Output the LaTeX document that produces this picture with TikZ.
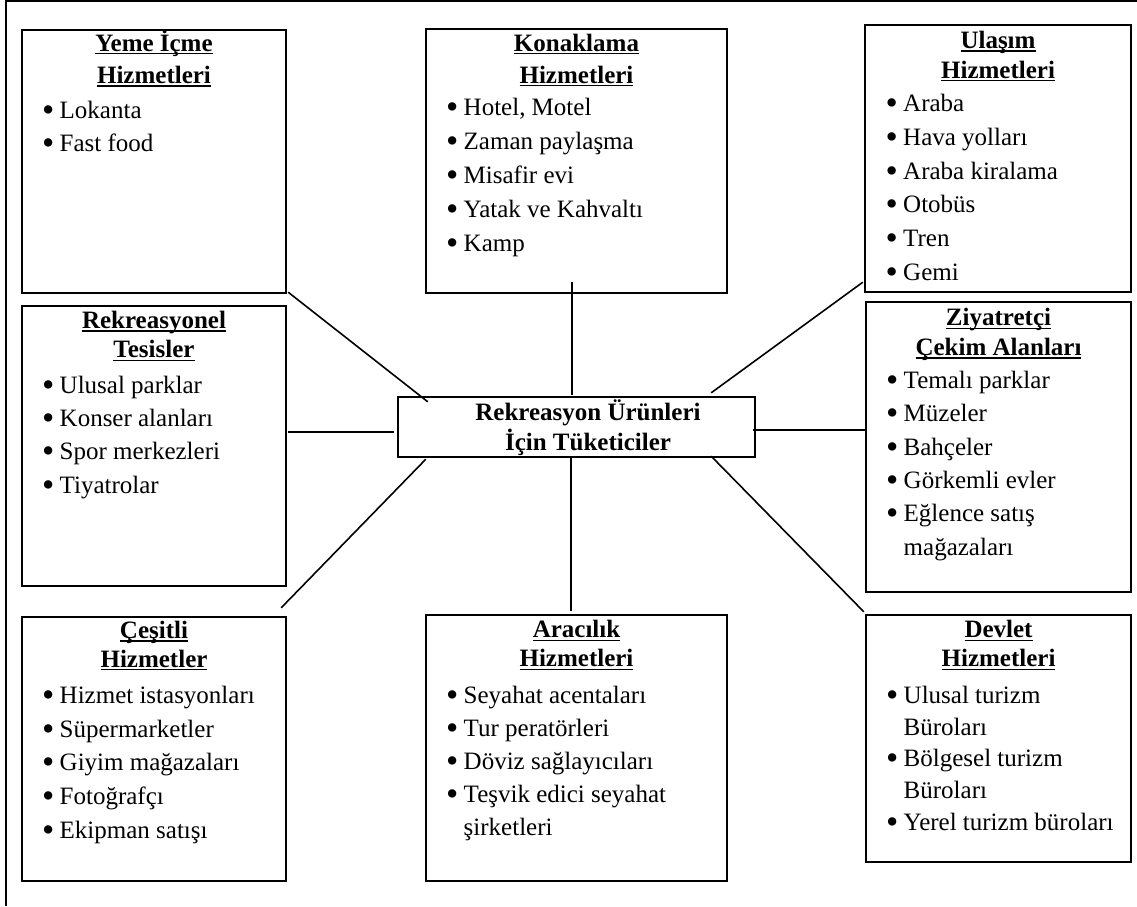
\documentclass[tikz,border=0pt]{standalone}
\usepackage{fontspec}
\setmainfont{Liberation Serif}
\usetikzlibrary{calc}
\newcommand\ulin[1]{\setbox0=\hbox{#1}\rlap{\rule[-3.4pt]{\wd0}{1.7pt}}\box0}
\newcommand\ttab[2]{{\fontsize{25}{#1}\selectfont\bfseries\begin{tabular}[t]{@{}c@{}}#2\end{tabular}}}
\newcommand\ltab[2]{{\fontsize{25}{#1}\selectfont\begin{tabular}[t]{@{}l@{}}#2\end{tabular}}}
\newcommand\bu{\makebox[17.5pt][l]{\raisebox{-3pt}{\scalebox{1.4}{\textbullet}}}}
\newcommand\cn{\hspace*{17.5pt}}
\begin{document}
\begin{tikzpicture}[x=1pt,y=-1pt,
  box/.style={draw, line width=2.4pt, inner sep=0pt},
  conn/.style={line width=1.6pt},
  frame/.style={line width=2pt},
  txt/.style={inner sep=0pt, anchor=base},
  lst/.style={inner sep=0pt, anchor=base west}]
\useasboundingbox (0,0) rectangle (1137,906);
\draw[frame] (6.3,906) -- (6.3,0.7) -- (1137,0.7);

% boxes
\node[box, minimum width=264, minimum height=263] (yeme) at (154,161.5) {};
\node[box, minimum width=301, minimum height=264] (kon) at (576.5,161) {};
\node[box, minimum width=266, minimum height=267] (ula) at (998,158.5) {};
\node[box, minimum width=264, minimum height=280] (rek) at (154,446) {};
\node[box, minimum width=357, minimum height=60] (cen) at (576.5,427) {};
\node[box, minimum width=265, minimum height=290] (ziy) at (998.5,447) {};
\node[box, minimum width=264, minimum height=264] (ces) at (154,749) {};
\node[box, minimum width=301, minimum height=266] (ara) at (576.5,748) {};
\node[box, minimum width=265, minimum height=247] (dev) at (998.5,738.5) {};

% titles
\node[txt] (yemeT) at (154,51) {\ttab{32.5}{\ulin{Yeme İçme}\\\ulin{Hizmetleri}}};
\node[txt] (konT) at (576.5,51) {\ttab{32}{\ulin{Konaklama}\\\ulin{Hizmetleri}}};
\node[txt] (ulaT) at (998,48.5) {\ttab{29.5}{\ulin{Ulaşım}\\\ulin{Hizmetleri}}};
\node[txt] (rekT) at (154,328.5) {\ttab{29.3}{\ulin{Rekreasyonel}\\\ulin{Tesisler}}};
\node[txt] (ziyT) at (998.5,325.8) {\ttab{29.3}{\ulin{Ziyatretçi}\\\ulin{Çekim Alanları}}};
\node[txt] (cesT) at (154,638.5) {\ttab{28.5}{\ulin{Çeşitli}\\\ulin{Hizmetler}}};
\node[txt] (araT) at (576.5,637.8) {\ttab{29}{\ulin{Aracılık}\\\ulin{Hizmetleri}}};
\node[txt] (devT) at (998.5,637.8) {\ttab{29}{\ulin{Devlet}\\\ulin{Hizmetleri}}};
\node[txt] (cenT) at (588,420) {\ttab{29}{Rekreasyon Ürünleri\\İçin Tüketiciler}};

% lists
\node[lst] (yemeL) at (42,118.3) {\ltab{33.4}{\bu Lokanta\\\bu Fast food}};
\node[lst] (konL) at (446,115) {\ltab{34}{\bu Hotel, Motel\\\bu Zaman paylaşma\\\bu Misafir evi\\\bu Yatak ve Kahvaltı\\\bu Kamp}};
\node[lst] (ulaL) at (885.5,111.7) {\ltab{33.7}{\bu Araba\\\bu Hava yolları\\\bu Araba kiralama\\\bu Otobüs\\\bu Tren\\\bu Gemi}};
\node[lst] (rekL) at (42,393.3) {\ltab{33.3}{\bu Ulusal parklar\\\bu Konser alanları\\\bu Spor merkezleri\\\bu Tiyatrolar}};
\node[lst] (ziyL) at (886,388.3) {\ltab{33.4}{\bu Temalı parklar\\\bu Müzeler\\\bu Bahçeler\\\bu Görkemli evler\\\bu Eğlence satış\\\cn mağazaları}};
\node[lst] (cesL) at (42,703.3) {\ltab{33.75}{\bu Hizmet istasyonları\\\bu Süpermarketler\\\bu Giyim mağazaları\\\bu Fotoğrafçı\\\bu Ekipman satışı}};
\node[lst] (araL) at (446,703.3) {\ltab{33}{\bu Seyahat acentaları\\\bu Tur peratörleri\\\bu Döviz sağlayıcıları\\\bu Teşvik edici seyahat\\\cn şirketleri}};
\node[lst] (devL) at (886,703.3) {\ltab{31.7}{\bu Ulusal turizm\\\cn Büroları\\\bu Bölgesel turizm\\\cn Büroları\\\bu Yerel turizm büroları}};

% connectors
\draw[conn] ([shift={(1,-2)}]yeme.south east) -- ([shift={(31,6)}]cen.north west);
\draw[conn] ([shift={(-4.5,-12)}]kon.south) -- ([shift={(-4.5,-1)}]cen.north);
\draw[conn] ([shift={(-1,-11)}]ula.south west) -- ([shift={(-45,-3)}]cen.north east);
\coordinate (r1) at ([shift={(1,-14.3)}]rek.east);
\draw[conn] (r1) -- ($(cen.west |- r1)+(-3,0)$);
\coordinate (z1) at ([shift={(-3,3)}]cen.east);
\draw[conn] (z1) -- (ziy.west |- z1);
\draw[conn] ([shift={(29,1)}]cen.south west) -- ([shift={(-6,-8)}]ces.north east);
\draw[conn] ([shift={(-5.5,0)}]cen.south) -- ([shift={(-5.5,-3)}]ara.north);
\draw[conn] ([shift={(-45,-2)}]cen.south east) -- ([shift={(-1,-2)}]dev.north west);
\end{tikzpicture}
\end{document}
